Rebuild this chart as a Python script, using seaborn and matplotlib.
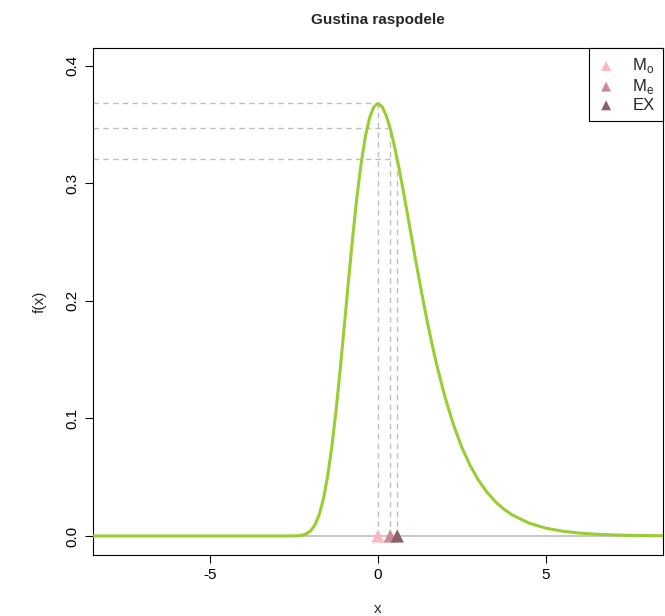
import matplotlib
matplotlib.use("Agg")

import numpy as np
import pandas as pd
import matplotlib.pyplot as plt
import seaborn as sns

# ── Data ─────────────────────────────────────────────────────────────────────
x_vals = [-8.5, -4.0, -3.0, -2.75, -2.5, -2.375, -2.25, -2.125, -2.0, -1.875,
          -1.75, -1.625, -1.5, -1.375, -1.25, -1.125, -1.0, -0.875, -0.75,
          -0.625, -0.5, -0.375, -0.25, -0.125, 0.0, 0.125, 0.25, 0.375, 0.5,
          0.625, 0.75, 0.875, 1.0, 1.125, 1.25, 1.375, 1.5, 1.625, 1.75,
          2.0, 2.25, 2.5, 2.75, 3.0, 3.25, 3.5, 3.75, 4.0, 4.5, 5.0, 5.5,
          6.0, 6.5, 7.0, 7.5, 8.0, 8.5]
fx_vals = [0.0, 0.0, 0.0, 0.0000025, 0.00006, 0.00023, 0.00072, 0.00194,
           0.00457, 0.0096, 0.0182, 0.0317, 0.0507, 0.0758, 0.1064, 0.1416,
           0.1794, 0.2179, 0.2549, 0.2885, 0.3170, 0.3396, 0.3556, 0.3649,
           0.3679, 0.3651, 0.3574, 0.3457, 0.3307, 0.3134, 0.2945, 0.2748,
           0.2546, 0.2346, 0.2151, 0.1964, 0.1785, 0.1617, 0.1460, 0.1182,
           0.0949, 0.0756, 0.0600, 0.0474, 0.0373, 0.0293, 0.0230, 0.0180,
           0.0110, 0.00668, 0.00407, 0.00248, 0.00150, 0.00091, 0.00055,
           0.00034, 0.0002]

stat_labels = ["M$_\\mathregular{o}$", "M$_\\mathregular{e}$", "EX"]
stat_x = [0.0, 0.3665, 0.5772]
stat_fx = [0.3679, 0.3466, 0.3203]
stat_colors = ["#FFB6C1", "#CD8C95", "#8B5F65"]

# ── Style ─────────────────────────────────────────────────────────────────────
sns.set_theme(style="ticks")
plt.rcParams.update({
    "font.family": ["Liberation Sans", "DejaVu Sans"],
    "axes.unicode_minus": False,
    "axes.edgecolor": "black",
    "axes.linewidth": 0.8,
    "xtick.color": "black",
    "ytick.color": "black",
})

fig = plt.figure(figsize=(6.65, 6.16), dpi=100)
ax = fig.add_axes([0.1398, 0.099, 0.857, 0.823])

xmin, xmax = -8.5, 8.5
ymin, ymax = -0.0162, 0.415

ax.axhline(0, color="#BEBEBE", lw=1.2, zorder=1)

curve = pd.DataFrame({"x": x_vals, "fx": fx_vals})
sns.lineplot(data=curve, x="x", y="fx", color="#9ACD32", lw=2.2, ax=ax,
             zorder=3)

for sx, sf, col, lab in zip(stat_x, stat_fx, stat_colors, stat_labels):
    ax.plot([xmin, sx], [sf, sf], ls=(0, (4, 3)), color="#BEBEBE", lw=1,
            zorder=2)
    ax.plot([sx, sx], [0, sf], ls=(0, (4, 3)), color="#BEBEBE", lw=1,
            zorder=2)
    ax.scatter([sx], [0], marker="^", s=90, color=col, zorder=4,
               edgecolors="none", label=lab)

ax.set_xlim(xmin, xmax)
ax.set_ylim(ymin, ymax)
ax.set_xticks([-5, 0, 5])
ax.set_yticks([0.0, 0.1, 0.2, 0.3, 0.4])
ax.set_yticklabels(["0.0", "0.1", "0.2", "0.3", "0.4"], rotation=90,
                   va="center")
ax.tick_params(labelsize=11, length=6, width=0.8, direction="out")
ax.set_xlabel("x", fontsize=11, labelpad=14)
ax.set_ylabel("f(x)", fontsize=11, labelpad=14)
ax.set_title("Gustina raspodele", fontsize=11, fontweight="bold", pad=17)
for side in ax.spines.values():
    side.set_visible(True)
    side.set_color("black")

leg = ax.legend(loc="upper right", borderaxespad=0, fancybox=False,
                framealpha=1, edgecolor="black", fontsize=12,
                handletextpad=1.07, borderpad=0.5, labelspacing=0.1,
                handlelength=1.0, markerscale=0.75)
leg.get_frame().set_linewidth(0.8)

fig.savefig("out.png", dpi=100)
